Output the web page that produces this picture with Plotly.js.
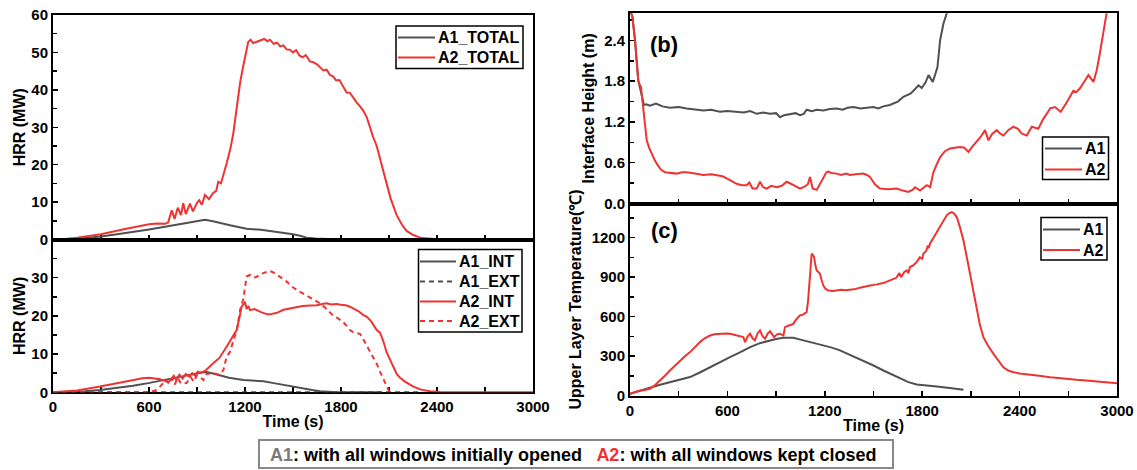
<!DOCTYPE html>
<html>
<head>
<meta charset="utf-8">
<script src="https://cdn.plot.ly/plotly-3.0.1.min.js"></script>
<style>html,body{margin:0;padding:0;background:#fff;}#chart{width:1137px;height:470px;}</style>
</head>
<body>
<div id="chart"></div>
<script>
// ---------- (a) HRR total ----------
const a2TotalT = [0,60,150,300,450,540,600,650,700,720,742,760,780,800,814,830,856,875,900,914,930,950,975,1000,1020,1033,1050,1085,1110,1127,1150,1169,1185,1200,1220,1235,1250,1270,1300,1320,1340,1356,1380,1400,1420,1440,1460,1481,1500,1520,1540,1560,1580,1606,1627,1650,1670,1690,1710,1731,1750,1770,1790,1810,1835,1856,1880,1900,1920,1940,1960,1980,2000,2023,2050,2085,2110,2148,2180,2210,2252,2294,2335,2400,2500,3000];
const a2TotalV = [0,0.1,0.5,1.4,2.8,3.6,4.1,4.3,4.2,4.6,7.8,5.5,8.5,6.5,9.7,6.8,9.6,7.5,9.8,10.5,9.3,11.9,10.8,12.4,13.0,15.4,15.0,20.3,24.5,28.4,36,41.8,45.5,49.0,52.8,53.4,52.5,52.8,53.2,53.6,53.0,53.4,52.3,52.6,51.6,51.9,50.8,50.7,50.0,50.6,49.2,48.7,49.3,47.6,47.4,46.8,46.0,45.2,45.4,44.0,43.6,42.5,42.6,41.0,39.3,39.2,37.6,36.5,35.5,34.4,32.8,30.0,27.5,25.0,20.5,15.0,11.0,6.5,4.0,2.3,1.2,0.5,0.25,0.05,0,0];
const a1TotalT = [0,100,200,300,400,500,600,700,800,900,950,1000,1050,1106,1150,1210,1300,1356,1400,1460,1500,1544,1585,1640,1690,1750,1850,1900];
const a1TotalV = [0,0.1,0.4,0.8,1.4,2.0,2.7,3.4,4.2,4.9,5.3,4.9,4.3,3.8,3.4,2.9,2.6,2.3,2.1,1.6,1.4,1.0,0.5,0.3,0.1,0.05,0.02,0];

// ---------- (a) HRR interior / exterior ----------
const a1IntT = [0,100,200,294,400,500,596,700,800,919,960,1000,1050,1100,1190,1250,1315,1380,1440,1500,1565,1620,1669,1750,1850,2054];
const a1IntV = [0,0.1,0.3,0.6,1.1,1.7,2.4,3.2,4.1,5.1,5.3,4.9,4.3,3.8,3.2,3.0,2.9,2.4,1.9,1.5,1.0,0.6,0.3,0.05,0,0];
const a1ExtT = [0,2300];
const a1ExtV = [0,0];
const a2IntT = [0,150,294,400,502,560,600,640,669,700,720,740,755,770,790,810,830,850,870,890,905,919,950,1002,1040,1085,1120,1148,1165,1179,1190,1200,1210,1222,1231,1260,1300,1340,1356,1400,1440,1481,1520,1560,1606,1650,1690,1710,1740,1770,1800,1830,1856,1880,1910,1940,1960,1990,2023,2044,2065,2085,2106,2127,2148,2169,2200,2252,2300,2356,2420,2500,3000];
const a2IntV = [0,0.5,1.5,2.4,3.2,3.7,3.8,3.6,3.4,3.0,2.6,3.5,4.3,3.2,4.6,3.6,4.8,4.1,5.0,4.3,5.4,5.1,5.6,7.6,9.0,11.9,14.5,16.3,19.5,22.4,23.0,23.7,21.8,22.6,21.5,21.8,21.0,20.4,20.4,20.8,21.6,22.0,22.2,22.6,22.7,22.8,23.2,23.3,23.0,23.1,22.9,22.8,22.4,21.8,21.2,20.2,19.8,18.5,16.3,15.6,13.3,10.5,8.5,6.5,4.8,3.8,2.8,1.5,0.7,0.25,0.05,0,0];
const a2ExtT = [0,600,640,669,690,710,725,745,760,780,800,835,860,880,900,919,940,960,1002,1040,1065,1085,1105,1127,1150,1169,1190,1210,1231,1252,1273,1300,1335,1356,1380,1400,1419,1440,1460,1490,1523,1544,1580,1627,1669,1700,1731,1752,1780,1815,1840,1856,1877,1900,1919,1940,1960,1981,2002,2023,2044,2065,2085,2100,2110];
const a2ExtV = [0,0,0.5,1.5,2.5,3.2,2.2,3.6,2.0,3.8,2.3,2.4,4.0,2.8,4.5,4.0,3.2,4.8,5.0,4.6,5.8,9.3,10.5,13.7,16.5,21.5,24.5,30.3,30.7,30.0,30.2,31.0,31.6,31.8,31.3,30.8,30.3,29.6,29.0,27.8,26.8,26.3,25.4,24.4,23.3,22.2,21.0,20.0,19.4,18.3,17.2,16.3,15.7,15.4,15.3,13.8,12.3,10.6,9.0,7.5,5.4,3.5,1.5,0.3,0];

// ---------- (b) interface height ----------
const hA1T = [0,15,31,42,51,60,70,86,100,123,160,200,246,300,349,400,452,500,554,600,657,700,740,781,820,863,900,924,950,986,1020,1047,1070,1088,1120,1150,1191,1230,1273,1310,1340,1376,1420,1458,1500,1530,1561,1600,1622,1650,1684,1710,1730,1746,1777,1797,1820,1839,1865,1880,1894,1902,1910,1931,1951,1965];
const hA1V = [2.85,2.75,2.4,2.05,1.81,1.72,1.6,1.45,1.46,1.44,1.47,1.43,1.41,1.42,1.40,1.39,1.37,1.38,1.35,1.36,1.35,1.34,1.36,1.32,1.34,1.32,1.33,1.27,1.30,1.32,1.33,1.30,1.32,1.38,1.36,1.38,1.37,1.39,1.40,1.38,1.41,1.42,1.40,1.41,1.42,1.40,1.43,1.45,1.47,1.50,1.57,1.60,1.62,1.66,1.74,1.70,1.78,1.89,1.79,1.90,2.01,2.2,2.40,2.65,2.79,2.9];
const hA2T = [0,15,31,42,51,60,68,75,82,92,103,118,134,150,164,190,216,250,288,320,349,400,452,500,534,570,596,630,657,690,719,735,755,781,801,820,842,870,904,935,965,1000,1030,1047,1070,1095,1109,1118,1125,1150,1170,1190,1210,1222,1240,1273,1300,1330,1355,1390,1417,1437,1460,1478,1510,1540,1590,1643,1680,1715,1740,1756,1787,1810,1828,1849,1869,1890,1910,1940,1972,2000,2033,2060,2085,2110,2136,2160,2187,2208,2230,2259,2280,2300,2330,2362,2390,2413,2444,2475,2515,2547,2570,2588,2618,2653,2691,2710,2731,2750,2773,2800,2824,2855,2875,2890,2906,2920,2933,2950];
const hA2V = [2.85,2.75,2.4,2.05,1.81,1.75,1.71,1.55,1.37,1.1,0.93,0.82,0.73,0.65,0.59,0.5,0.46,0.45,0.44,0.46,0.46,0.44,0.42,0.43,0.42,0.40,0.37,0.32,0.29,0.27,0.27,0.31,0.22,0.22,0.32,0.24,0.22,0.26,0.24,0.26,0.32,0.28,0.24,0.22,0.24,0.28,0.39,0.30,0.22,0.2,0.28,0.38,0.46,0.47,0.45,0.44,0.42,0.44,0.42,0.43,0.44,0.44,0.42,0.39,0.28,0.22,0.21,0.22,0.19,0.17,0.2,0.24,0.19,0.24,0.27,0.24,0.46,0.58,0.68,0.77,0.81,0.82,0.83,0.82,0.76,0.84,0.91,0.98,1.08,0.93,1.02,1.08,1.03,1.0,1.08,1.13,1.1,1.03,1.0,1.13,1.1,1.25,1.33,1.40,1.42,1.35,1.49,1.58,1.66,1.64,1.70,1.80,1.89,1.79,1.96,2.15,2.4,2.6,2.79,3.0];

// ---------- (c) upper layer temperature ----------
const tA1T = [0,60,123,185,246,308,370,430,493,555,616,680,740,800,863,900,945,975,1006,1050,1109,1170,1232,1290,1355,1400,1437,1500,1561,1610,1664,1715,1766,1820,1890,1970,2054];
const tA1V = [13,38,59,82,102,120,140,175,216,255,292,330,368,398,419,430,439,441,439,425,406,390,368,345,310,285,266,228,190,160,127,102,84,75,68,57,43];
const tA2T = [0,30,62,90,123,150,185,215,246,280,308,340,370,400,431,460,493,520,555,590,616,640,657,680,698,709,725,740,755,770,785,801,815,832,848,863,876,888,905,924,945,955,975,1006,1025,1047,1065,1088,1097,1105,1112,1119,1127,1134,1142,1150,1160,1170,1180,1191,1205,1222,1250,1273,1300,1330,1355,1390,1417,1450,1479,1520,1560,1602,1640,1660,1670,1690,1705,1715,1725,1745,1766,1785,1800,1807,1825,1835,1840,1848,1860,1879,1895,1910,1930,1951,1965,1982,1995,2013,2030,2054,2075,2095,2115,2136,2155,2177,2205,2239,2270,2300,2330,2362,2400,2465,2520,2588,2650,2700,2752,2810,2875,2940,3000];
const tA2V = [13,28,38,42,51,75,114,150,190,230,266,300,330,370,406,435,456,466,470,472,470,464,456,452,444,406,450,470,435,419,470,495,455,431,470,488,460,444,465,470,456,520,530,545,580,609,615,634,720,875,1020,1078,1070,1053,990,951,940,926,880,837,810,799,795,799,805,800,804,810,820,830,837,845,855,875,895,930,900,940,951,930,977,990,1014,1050,1040,1078,1100,1140,1120,1154,1180,1218,1250,1281,1330,1370,1385,1395,1385,1357,1290,1180,1050,926,780,647,540,444,380,317,260,215,190,177,168,160,150,139,130,125,119,114,107,100,94];

// legend labels per panel
const legTotal = ['A1_TOTAL', 'A2_TOTAL'];
const legIntExt = ['A1_INT', 'A1_EXT', 'A2_INT', 'A2_EXT'];
const legCase = ['A1', 'A2'];

const GRAY = '#505050';
const RED = '#ee3333';
const FONT = 'Liberation Sans, Arial, sans-serif';
const LW = 2;
const DASH = '5px,4px';

function tr(x, y, name, color, xa, ya, dash) {
  return {x: x, y: y, name: name, type: 'scatter', mode: 'lines',
    line: {color: color, width: LW, dash: dash || 'solid'},
    xaxis: xa, yaxis: ya, showlegend: false, hoverinfo: 'skip'};
}

const traces = [
  tr(a1TotalT, a1TotalV, legTotal[0], GRAY, 'x', 'y'),
  tr(a2TotalT, a2TotalV, legTotal[1], RED, 'x', 'y'),
  tr(a1IntT, a1IntV, legIntExt[0], GRAY, 'x2', 'y2'),
  tr(a1ExtT, a1ExtV, legIntExt[1], GRAY, 'x2', 'y2', DASH),
  tr(a2IntT, a2IntV, legIntExt[2], RED, 'x2', 'y2'),
  tr(a2ExtT, a2ExtV, legIntExt[3], RED, 'x2', 'y2', DASH),
  tr(hA1T, hA1V, legCase[0], GRAY, 'x3', 'y3'),
  tr(hA2T, hA2V, legCase[1], RED, 'x3', 'y3'),
  tr(tA1T, tA1V, legCase[0], GRAY, 'x4', 'y4'),
  tr(tA2T, tA2V, legCase[1], RED, 'x4', 'y4')
];

const W = 1137, H = 470;
const px = v => v / W;
const py = v => 1 - v / H;

const tickFont = {family: FONT, size: 15, color: '#000', weight: 'bold'};
const titleFont = {family: FONT, size: 16, color: '#000', weight: 'bold'};
const legFont = {family: FONT, size: 16, color: '#000', weight: 'bold'};

function axBase(extra) {
  return Object.assign({
    showline: true, linecolor: '#000', linewidth: 2, mirror: true,
    ticks: 'inside', ticklen: 5, tickwidth: 1.5, tickcolor: '#000',
    showgrid: false, zeroline: false, fixedrange: true,
    tickfont: tickFont, layer: 'below traces'
  }, extra);
}

const xl = [px(53), px(533)];
const xr = [px(630), px(1117)];

// legend boxes drawn as shapes + annotations
const shapes = [];
const annotations = [];
function addLegend(box, rows, lineX0, lineX1, textX, labels, colors, dashes) {
  shapes.push({type: 'rect', xref: 'paper', yref: 'paper', x0: px(box[0]), x1: px(box[2]), y0: py(box[3]), y1: py(box[1]),
    line: {color: '#000', width: 1.5}, fillcolor: '#fff', layer: 'above'});
  labels.forEach((lab, i) => {
    shapes.push({type: 'line', xref: 'paper', yref: 'paper', x0: px(lineX0), x1: px(lineX1), y0: py(rows[i]), y1: py(rows[i]),
      line: {color: colors[i], width: LW, dash: dashes[i]}, layer: 'above'});
    annotations.push({xref: 'paper', yref: 'paper', x: px(textX), y: py(rows[i]), xanchor: 'left', yanchor: 'middle',
      showarrow: false, text: lab, font: legFont});
  });
}
addLegend([396, 26, 523, 68.5], [37.5, 57.5], 398, 435, 436, legTotal, [GRAY, RED], ['solid', 'solid']);
addLegend([418.5, 249.5, 522, 332], [261.5, 281.5, 301.5, 321], 420, 456, 457, legIntExt, [GRAY, GRAY, RED, RED], ['solid', DASH, 'solid', DASH]);
addLegend([1042.5, 137, 1108.5, 179.5], [148.5, 169.5], 1045, 1082, 1083, legCase, [GRAY, RED], ['solid', 'solid']);
addLegend([1041, 217.5, 1107, 260], [229.5, 250], 1043, 1080, 1081, legCase, [GRAY, RED], ['solid', 'solid']);

// caption box
shapes.push({type: 'rect', xref: 'paper', yref: 'paper', x0: px(259), x1: px(893), y0: py(468), y1: py(440),
  line: {color: '#888', width: 2}, fillcolor: 'rgba(0,0,0,0)'});
annotations.push({xref: 'paper', yref: 'paper', x: px(573), y: py(455), xanchor: 'center', yanchor: 'middle', showarrow: false,
  text: '<span style="color:#7a7a7a">A1</span>: with all windows initially opened\u00a0\u00a0 <span style="color:#ee3333">A2</span>: with all windows kept closed',
  font: {family: FONT, size: 18, color: '#000', weight: 'bold'}});
// panel tags
annotations.push({xref: 'paper', yref: 'paper', x: px(664), y: py(44), xanchor: 'center', yanchor: 'middle', showarrow: false,
  text: '(b)', font: {family: FONT, size: 22, color: '#000', weight: 'bold'}});
annotations.push({xref: 'paper', yref: 'paper', x: px(664), y: py(230.5), xanchor: 'center', yanchor: 'middle', showarrow: false,
  text: '(c)', font: {family: FONT, size: 22, color: '#000', weight: 'bold'}});

const minorX = {dtick: 300, ticks: 'inside', ticklen: 5, tickwidth: 1.5, tickcolor: '#000'};

const layout = {
  width: W, height: H,
  margin: {l: 0, r: 0, t: 0, b: 0},
  paper_bgcolor: '#fff', plot_bgcolor: '#fff',
  showlegend: false,
  xaxis: axBase({domain: xl, anchor: 'y', range: [0, 3000], dtick: 600, showticklabels: false, minor: minorX}),
  yaxis: axBase({domain: [py(239.5), py(15)], anchor: 'x', range: [0, 60], dtick: 10,
    minor: {dtick: 5, ticks: 'inside', ticklen: 4, tickwidth: 1.5, tickcolor: '#000'},
    title: {text: 'HRR (MW)', font: titleFont, standoff: 2}}),
  xaxis2: axBase({domain: xl, anchor: 'y2', range: [0, 3000], dtick: 600, minor: minorX,
    title: {text: 'Time (s)', font: titleFont, standoff: 2}}),
  yaxis2: axBase({domain: [py(392.3), py(239.5)], anchor: 'x2', range: [0, 40], tickvals: [0, 10, 20, 30],
    minor: {dtick: 5, ticks: 'inside', ticklen: 4, tickwidth: 1.5, tickcolor: '#000'},
    title: {text: 'HRR (MW)', font: titleFont, standoff: 2}}),
  xaxis3: axBase({domain: xr, anchor: 'y3', range: [0, 3000], dtick: 600, showticklabels: false, minor: minorX}),
  yaxis3: axBase({domain: [py(203.5), py(13.3)], anchor: 'x3', range: [0, 2.8], dtick: 0.6, tickformat: '.1f',
    minor: {dtick: 0.3, ticks: 'inside', ticklen: 4, tickwidth: 1.5, tickcolor: '#000'},
    title: {text: 'Interface Height (m)', font: titleFont, standoff: 6}}),
  xaxis4: axBase({domain: xr, anchor: 'y4', range: [0, 3000], dtick: 600, minor: minorX,
    title: {text: 'Time (s)', font: titleFont, standoff: 2}}),
  yaxis4: axBase({domain: [py(395.5), py(203.5)], anchor: 'x4', range: [0, 1460], dtick: 300,
    minor: {dtick: 150, ticks: 'inside', ticklen: 4, tickwidth: 1.5, tickcolor: '#000'},
    title: {text: 'Upper Layer Temperature(℃)', font: titleFont, standoff: 6}}),
  shapes: shapes,
  annotations: annotations
};

Plotly.newPlot('chart', traces, layout, {displayModeBar: false, staticPlot: true});
</script>
</body>
</html>
